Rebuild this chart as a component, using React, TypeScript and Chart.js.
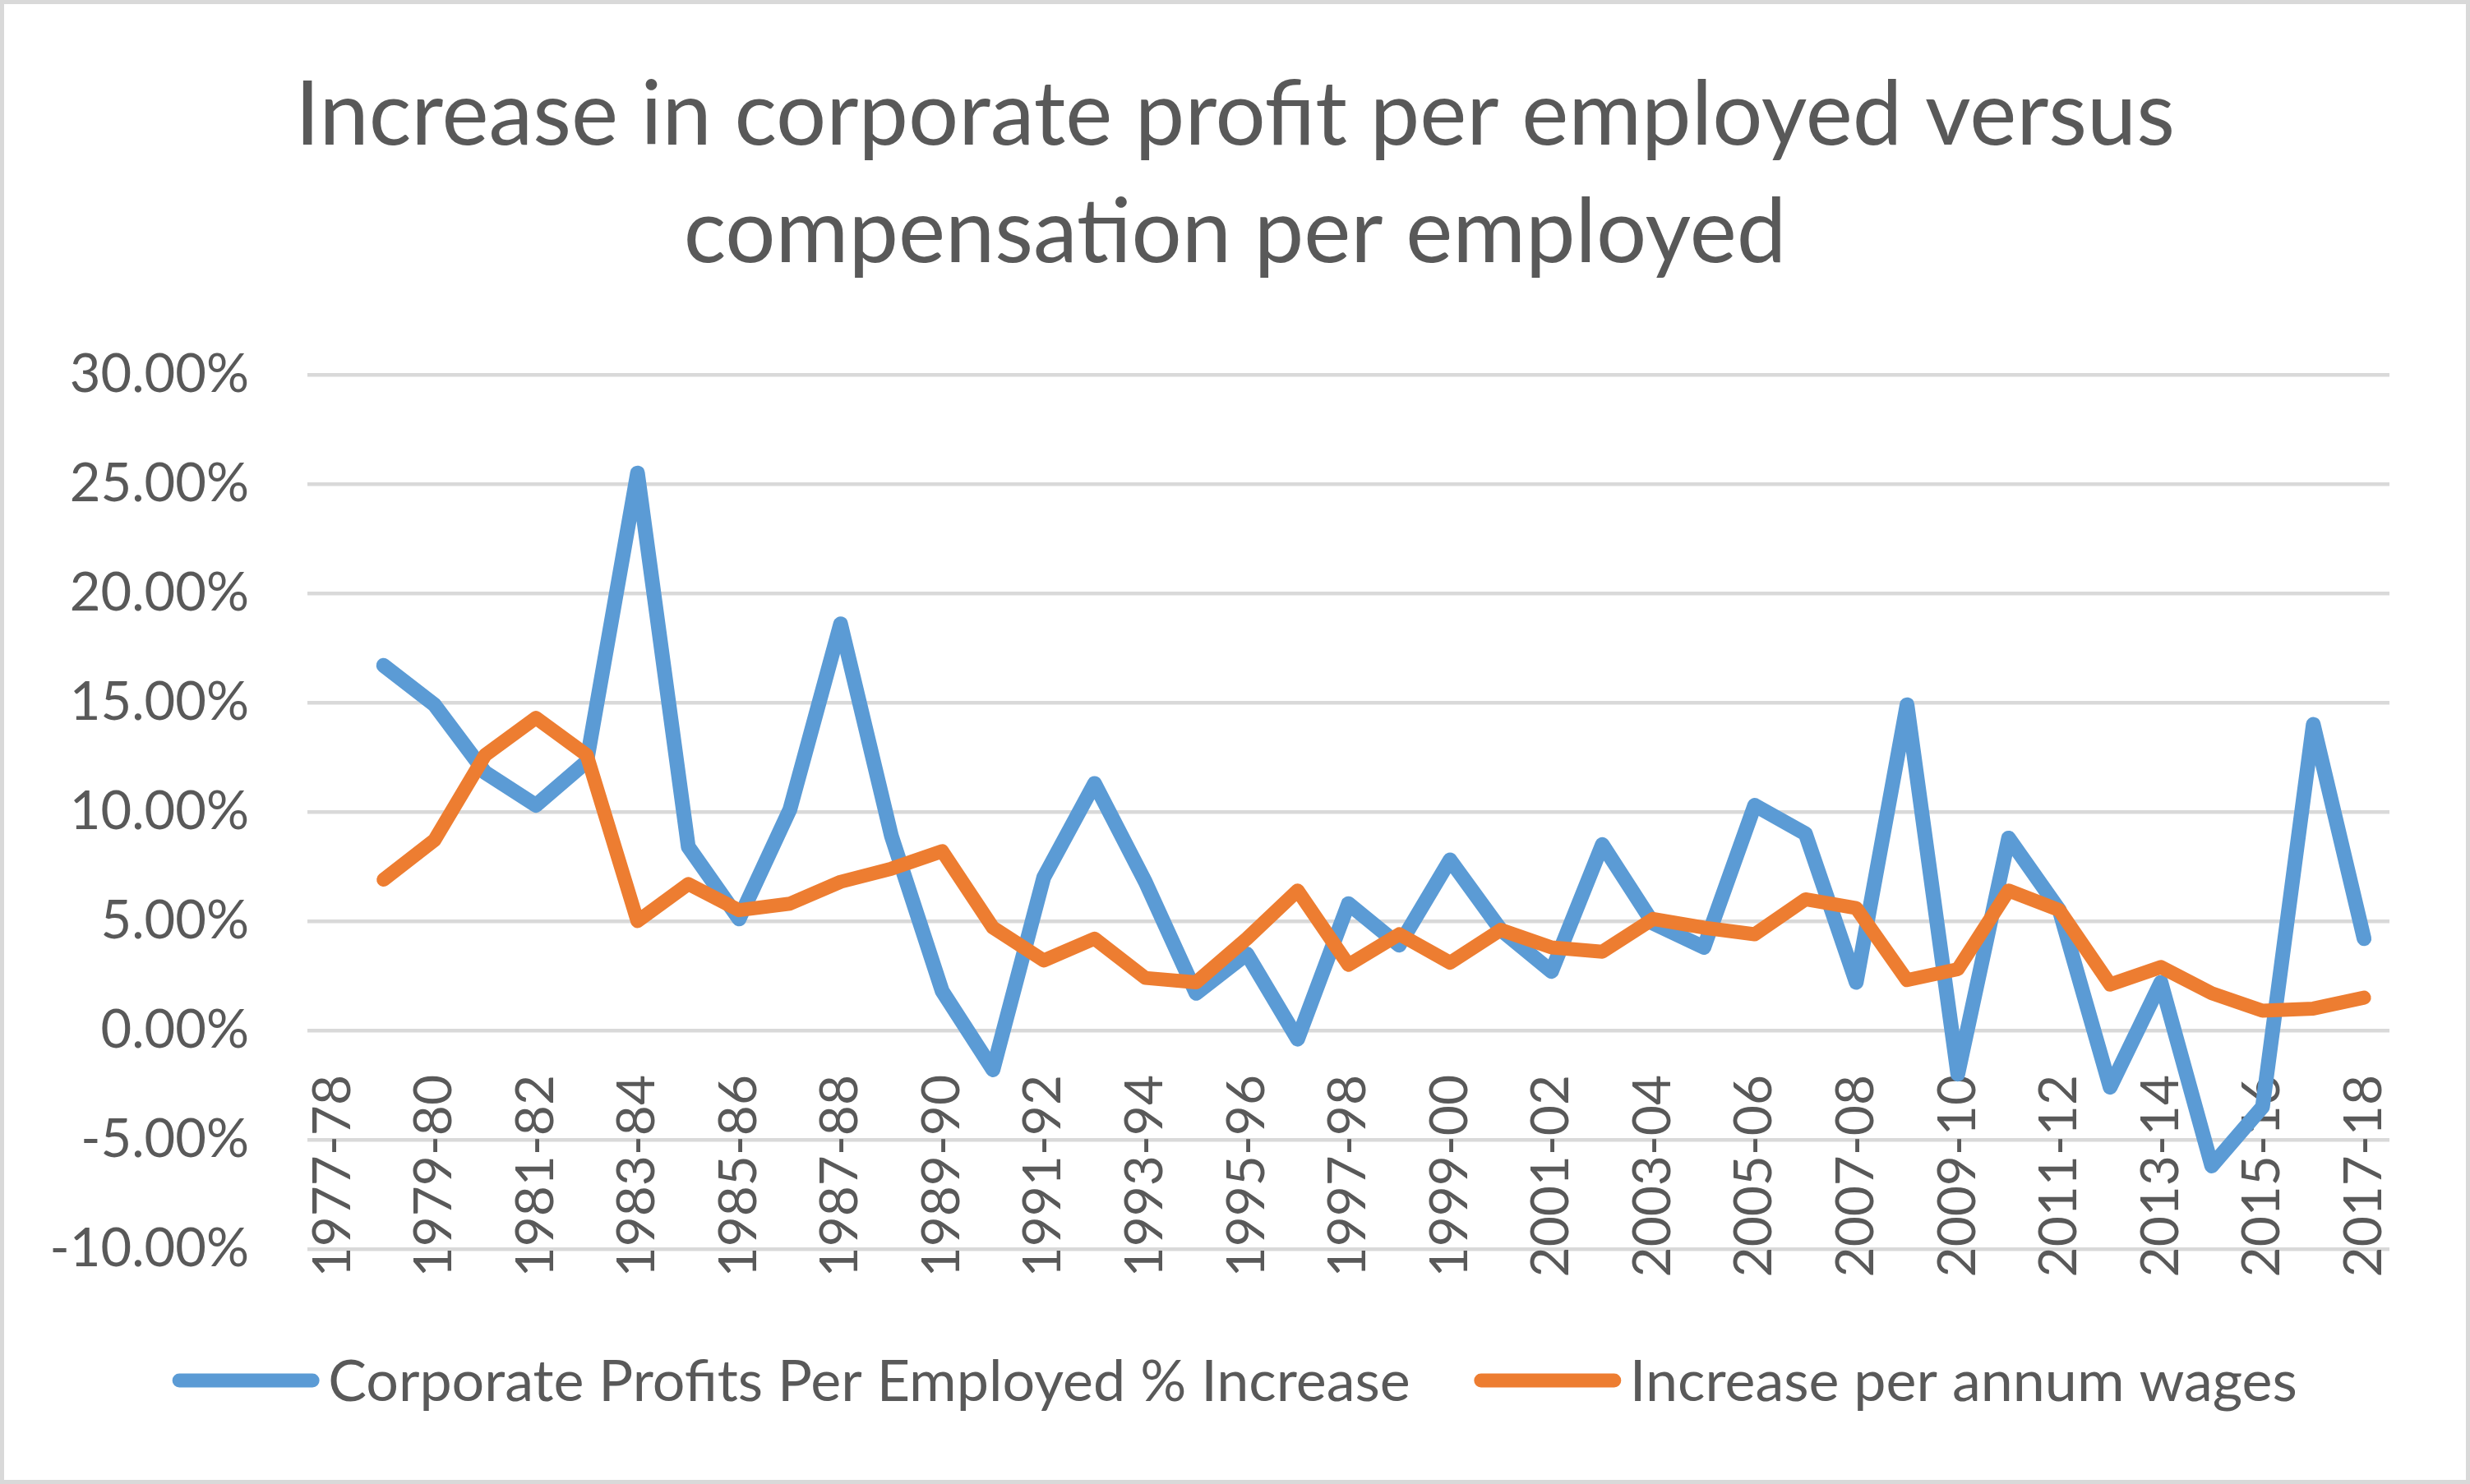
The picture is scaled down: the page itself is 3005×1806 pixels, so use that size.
import React, { useEffect, useRef } from 'react';
import { Chart, registerables } from 'chart.js';
import type { Plugin } from 'chart.js';

Chart.register(...registerables);

const years = [
  '1977-78', '1978-79', '1979-80', '1980-81', '1981-82', '1982-83', '1983-84', '1984-85',
  '1985-86', '1986-87', '1987-88', '1988-89', '1989-90', '1990-91', '1991-92', '1992-93',
  '1993-94', '1994-95', '1995-96', '1996-97', '1997-98', '1998-99', '1999-00', '2000-01',
  '2001-02', '2002-03', '2003-04', '2004-05', '2005-06', '2006-07', '2007-08', '2008-09',
  '2009-10', '2010-11', '2011-12', '2012-13', '2013-14', '2014-15', '2015-16', '2016-17',
  '2017-18',
];

// % increase, first year has no value
const profitPerEmployed = [
  null, 16.7, 14.9, 11.8, 10.3, 12.3, 25.5, 8.4, 5.1, 10.1, 18.6, 8.9, 1.8, -1.8, 7.0, 11.3,
  6.8, 1.7, 3.5, -0.4, 5.8, 3.9, 7.8, 4.6, 2.7, 8.5, 4.9, 3.8, 10.3, 9.0, 2.2, 14.9,
  -2.0, 8.8, 5.5, -2.6, 2.2, -6.2, -3.5, 14.0, 4.2,
];

const wagesPerAnnum = [
  null, 6.9, 8.7, 12.6, 14.3, 12.6, 5.0, 6.7, 5.5, 5.8, 6.8, 7.4, 8.2, 4.7, 3.2, 4.2,
  2.4, 2.2, 4.2, 6.4, 3.0, 4.4, 3.1, 4.6, 3.8, 3.6, 5.1, 4.7, 4.4, 6.0, 5.6, 2.3,
  2.8, 6.4, 5.5, 2.1, 2.9, 1.7, 0.9, 1.0, 1.5,
];

const titleLines = ['Increase in corporate profit per employed versus', 'compensation per employed'];

const FONT = 'Lato, "Open Sans", sans-serif';
const TEXT = '#595959';
const GRID = '#d9d9d9';

// Excel-style legend: long line sample, text right next to it
const bottomLegend: Plugin<'line'> = {
  id: 'bottomLegend',
  afterDraw(chart) {
    const { ctx } = chart;
    const sample = 178;
    const gap = 11;
    const itemGap = 78;
    ctx.save();
    ctx.font = `70px ${FONT}`;
    ctx.textBaseline = 'middle';
    const items = chart.data.datasets.map((ds) => ({
      text: ds.label as string,
      color: ds.borderColor as string,
      width: ctx.measureText(ds.label as string).width,
    }));
    const total = items.reduce((s, it) => s + sample + gap + it.width, 0) + itemGap * (items.length - 1);
    let x = (chart.width - total) / 2;
    const y = chart.height - 121;
    items.forEach((it) => {
      ctx.strokeStyle = it.color;
      ctx.lineWidth = 17;
      ctx.lineCap = 'round';
      ctx.beginPath();
      ctx.moveTo(x + 8, y);
      ctx.lineTo(x + sample - 8, y);
      ctx.stroke();
      ctx.fillStyle = TEXT;
      ctx.fillText(it.text, x + sample + gap, y + 2);
      x += sample + gap + it.width + itemGap;
    });
    ctx.restore();
  },
};

export default function App() {
  const canvasRef = useRef<HTMLCanvasElement>(null);

  useEffect(() => {
    if (!canvasRef.current) return;
    const chart = new Chart(canvasRef.current, {
      type: 'line',
      data: {
        labels: years,
        datasets: [
          {
            label: 'Corporate Profits Per Employed % Increase',
            data: profitPerEmployed,
            borderColor: '#5b9bd5',
            backgroundColor: '#5b9bd5',
            borderWidth: 18,
            borderCapStyle: 'round',
            borderJoinStyle: 'round',
            pointRadius: 0,
            tension: 0,
            order: 1,
          },
          {
            label: 'Increase per annum wages',
            data: wagesPerAnnum,
            borderColor: '#ed7d31',
            backgroundColor: '#ed7d31',
            borderWidth: 17,
            borderCapStyle: 'round',
            borderJoinStyle: 'round',
            pointRadius: 0,
            tension: 0,
            order: 0,
          },
        ],
      },
      options: {
        responsive: false,
        animation: false,
        devicePixelRatio: 1,
        layout: { padding: { left: 0, right: 0, top: 0, bottom: 281 } },
        plugins: {
          legend: { display: false },
          tooltip: { enabled: false },
          title: {
            display: true,
            text: titleLines,
            color: TEXT,
            font: { family: FONT, size: 108, weight: 'normal', lineHeight: 1.324 },
            padding: { top: 65, bottom: 100 },
          },
        },
        scales: {
          x: {
            type: 'category',
            position: { y: 0 },
            offset: true,
            grid: { display: false },
            border: { display: false },
            ticks: {
              autoSkip: false,
              minRotation: 90,
              maxRotation: 90,
              padding: 46,
              color: TEXT,
              font: { family: FONT, size: 64 },
              callback: (_v, i) => (i % 2 === 0 ? years[i] : ''),
            },
          },
          y: {
            min: -10,
            max: 30,
            grid: { color: GRID, lineWidth: 4.5, drawTicks: false },
            border: { display: false },
            afterFit: (axis) => {
              axis.width = 369;
            },
            ticks: {
              stepSize: 5,
              padding: 71,
              color: TEXT,
              font: { family: FONT, size: 65 },
              callback: (v) => `${Number(v).toFixed(2)}%`,
            },
          },
          // empty right-hand margin, kept as an axis so the title stays centred
          spacer: {
            type: 'linear',
            position: 'right',
            display: true,
            grid: { display: false },
            border: { display: false },
            ticks: { display: false },
            afterFit: (axis) => {
              axis.width = 89;
            },
          },
        },
      },
      plugins: [bottomLegend],
    });
    return () => chart.destroy();
  }, []);

  return (
    <div
      style={{
        position: 'absolute',
        left: 0,
        top: 0,
        width: 3005,
        height: 1806,
        boxSizing: 'border-box',
        border: `5px solid ${GRID}`,
        background: '#fff',
      }}
    >
      <canvas ref={canvasRef} width={2995} height={1796} style={{ display: 'block' }} />
    </div>
  );
}
